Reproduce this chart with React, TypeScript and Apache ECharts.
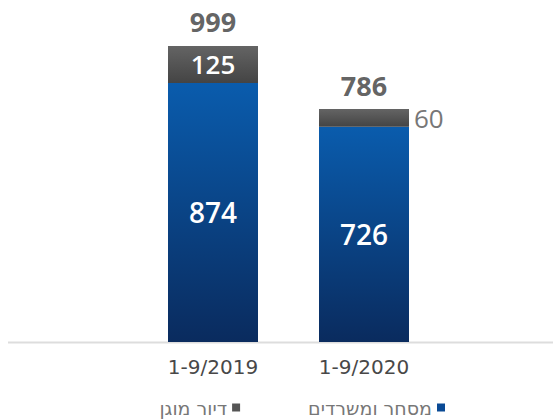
import React, { useEffect, useRef } from "react";
import * as echarts from "echarts";

const categories = ["1-9/2019", "1-9/2020"];
const commerceValues = [874, 726];
const seniorValues = [125, 60];
const totals = [999, 786];
const seriesNames = ["מסחר ומשרדים", "דיור מוגן"];

export default function App() {
  const ref = useRef<HTMLDivElement>(null);
  useEffect(() => {
    if (!ref.current) return;
    const chart = echarts.init(ref.current, null, { renderer: "svg" });
    const numFont = "Open Sans";
    chart.setOption({
      animation: false,
      backgroundColor: "#ffffff",
      grid: { left: 137.5, right: 115.5, top: 16, bottom: 78 },
      xAxis: {
        type: "category",
        data: categories,
        axisLine: { show: false },
        axisTick: { show: false },
        axisLabel: {
          margin: 15,
          fontSize: 20,
          color: "#484848",
          fontFamily: "DejaVu Sans",
        },
      },
      yAxis: { type: "value", min: 0, max: 1100, show: false },
      legend: {
        right: 110,
        top: 397,
        align: "right",
        itemWidth: 8,
        itemHeight: 8,
        itemGap: 68,
        icon: "rect",
        padding: 0,
        textStyle: { fontSize: 19, lineHeight: 21, color: "#777", fontFamily: "DejaVu Sans" },
        data: [
          { name: seriesNames[1], itemStyle: { color: "#555555" } },
          { name: seriesNames[0], itemStyle: { color: "#0a4a95" } },
        ],
      },
      graphic: [
        {
          type: "line",
          shape: { x1: 8, y1: 342.5, x2: 553, y2: 342.5 },
          style: { stroke: "#dddddd", lineWidth: 2 },
          z: 0,
        },
      ],
      series: [
        {
          name: seriesNames[0],
          type: "bar",
          stack: "total",
          barWidth: 90,
          data: commerceValues,
          itemStyle: {
            color: new echarts.graphic.LinearGradient(0, 0, 0, 1, [
              { offset: 0, color: "#0a5cad" },
              { offset: 1, color: "#0a2b5e" },
            ]),
          },
          label: {
            show: true,
            position: "inside",
            color: "#ffffff",
            fontSize: 28,
            fontWeight: 600,
            fontFamily: numFont,
          },
        },
        {
          name: seriesNames[1],
          type: "bar",
          stack: "total",
          barWidth: 90,
          data: seniorValues.map((v, i) => ({
            value: v,
            label:
              i === 0
                ? { position: "inside", color: "#ffffff", fontWeight: 600 }
                : { position: "right", color: "#777777", distance: 5 },
          })),
          itemStyle: {
            color: new echarts.graphic.LinearGradient(0, 0, 0, 1, [
              { offset: 0, color: "#646464" },
              { offset: 1, color: "#444444" },
            ]),
          },
          label: {
            show: true,
            fontSize: 26,
            fontFamily: numFont,
          },
        },
        {
          name: "total",
          type: "scatter",
          data: totals,
          symbolSize: 1,
          itemStyle: { color: "rgba(0,0,0,0)" },
          label: {
            show: true,
            position: "top",
            distance: 10,
            color: "#3a3a3a",
            fontWeight: "bold",
            fontSize: 27,
            fontFamily: numFont,
          },
          z: 5,
        },
      ],
    });
    return () => chart.dispose();
  }, []);
  return <div ref={ref} style={{ width: 555, height: 420, position: "absolute", left: 0, top: 0 }} />;
}
